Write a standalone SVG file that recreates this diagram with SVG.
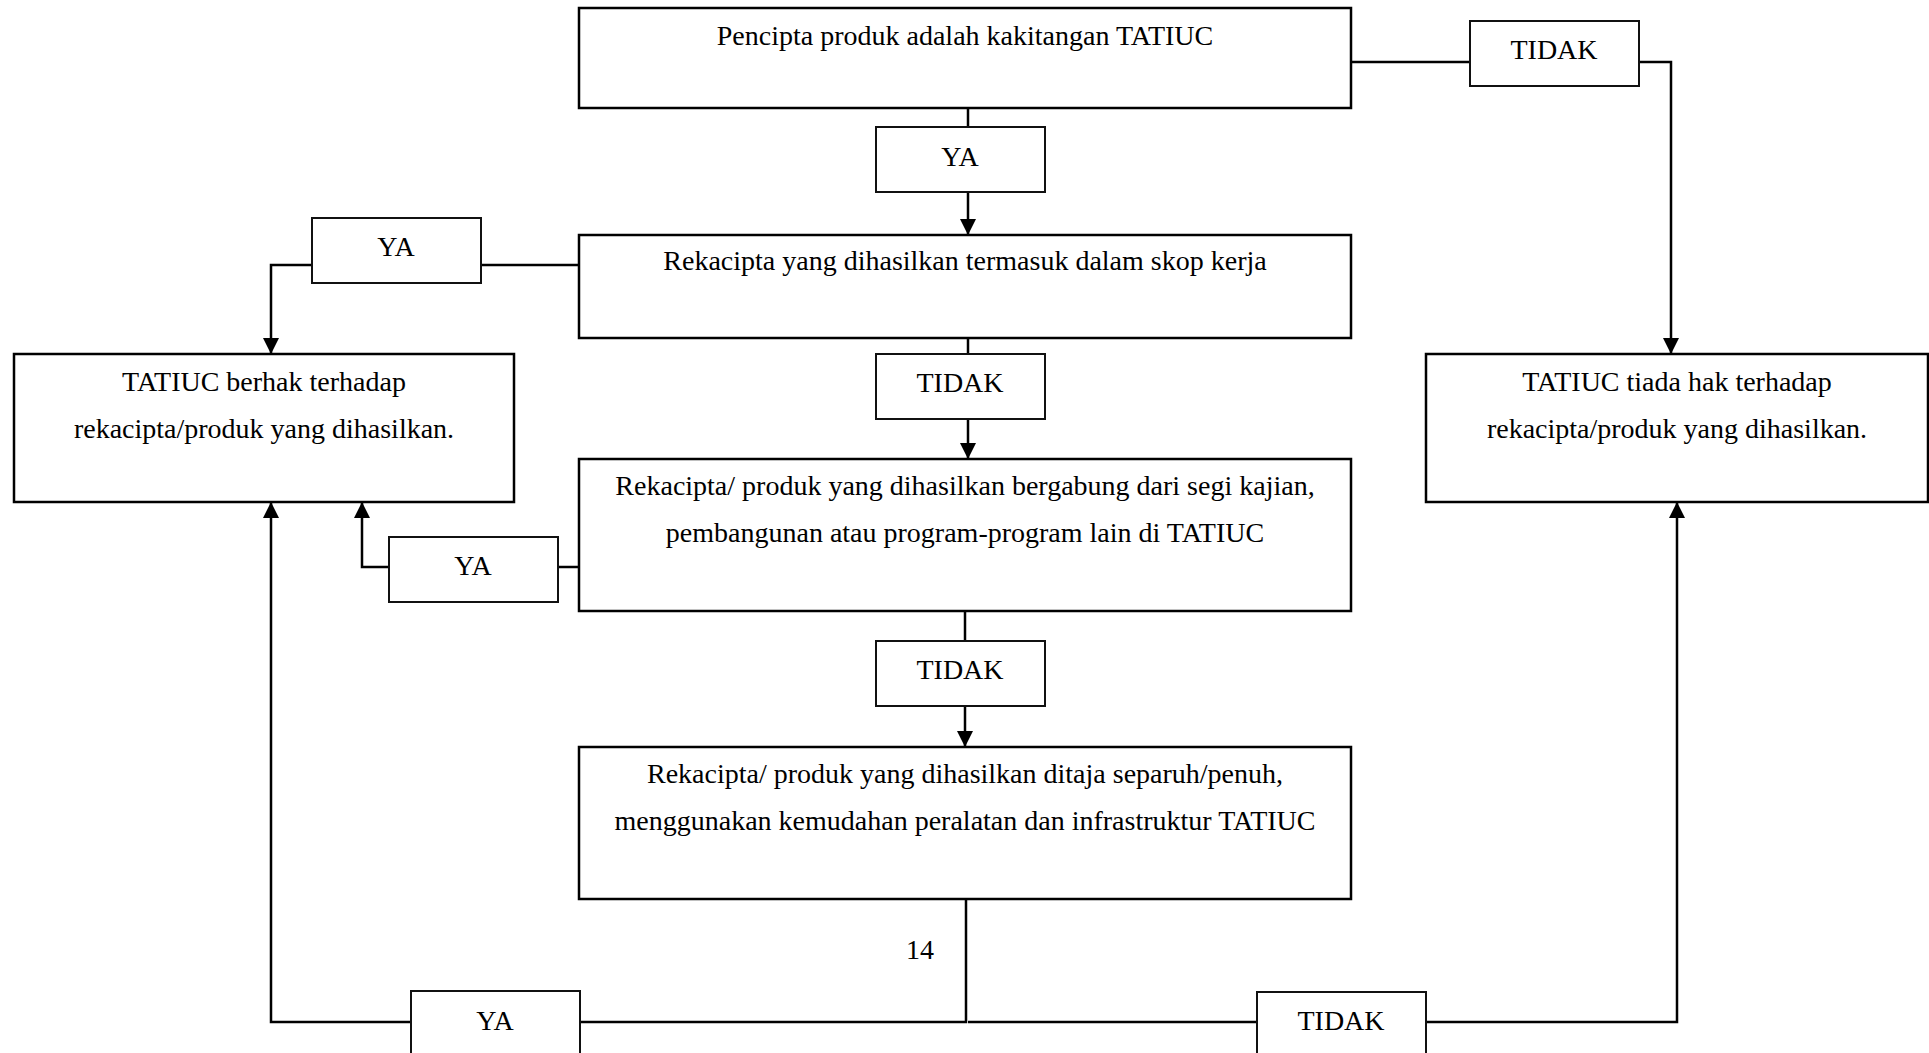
<svg xmlns="http://www.w3.org/2000/svg" width="1929" height="1053" viewBox="0 0 1929 1053">
<style>
.box{fill:#fff;stroke:#000;stroke-width:2.5}
.lbl{fill:#fff;stroke:#111;stroke-width:2}
.t{font-family:"Liberation Serif","Times New Roman",serif;font-size:28px;fill:#000;text-anchor:middle}
.c{fill:none;stroke:#000;stroke-width:2.5}
.a{marker-end:url(#arr)}
</style>
<defs>
<marker id="arr" viewBox="0 0 16 16" refX="16" refY="8" markerWidth="16" markerHeight="16" markerUnits="userSpaceOnUse" orient="auto">
<path d="M0,0 L16,8 L0,16 z" fill="#000"/>
</marker>
</defs>
<rect width="1929" height="1053" fill="#fff"/>
<g id="connectors">
<path class="c" d="M968,108 V127"/>
<path class="c a" d="M968,192 V235"/>
<path class="c" d="M580,265 H481"/>
<path class="c a" d="M312,265 H271 V354"/>
<path class="c" d="M968,338 V354"/>
<path class="c a" d="M968,419 V459"/>
<path class="c" d="M580,567 H558"/>
<path class="c a" d="M389,567 H362 V502"/>
<path class="c" d="M965,611 V641"/>
<path class="c a" d="M965,706 V747"/>
<path class="c" d="M966,899 V1022 H580"/>
<path class="c a" d="M411,1022 H271 V502"/>
<path class="c" d="M968,1022 H1257"/>
<path class="c a" d="M1426,1022 H1677 V502"/>
<path class="c" d="M1351,62 H1470"/>
<path class="c a" d="M1639,62 H1671 V354"/>
</g>
<g id="n1"><rect class="box" x="579" y="8" width="772" height="100"/><text class="t" x="965" y="45">Pencipta produk adalah kakitangan TATIUC</text></g>
<g id="l1"><rect class="lbl" x="876" y="127" width="169" height="65"/><text class="t" x="960" y="166">YA</text></g>
<g id="n2"><rect class="box" x="579" y="235" width="772" height="103"/><text class="t" x="965" y="270">Rekacipta yang dihasilkan termasuk dalam skop kerja</text></g>
<g id="l2"><rect class="lbl" x="312" y="218" width="169" height="65"/><text class="t" x="396" y="256">YA</text></g>
<g id="r1"><rect class="box" x="14" y="354" width="500" height="148"/><text class="t" x="264" y="391">TATIUC berhak terhadap</text><text class="t" x="264" y="438">rekacipta/produk yang dihasilkan.</text></g>
<g id="l3"><rect class="lbl" x="876" y="354" width="169" height="65"/><text class="t" x="960" y="392">TIDAK</text></g>
<g id="n3"><rect class="box" x="579" y="459" width="772" height="152"/><text class="t" x="965" y="495">Rekacipta/ produk yang dihasilkan bergabung dari segi kajian,</text><text class="t" x="965" y="542">pembangunan atau program-program lain di TATIUC</text></g>
<g id="l4"><rect class="lbl" x="389" y="537" width="169" height="65"/><text class="t" x="473" y="575">YA</text></g>
<g id="l5"><rect class="lbl" x="876" y="641" width="169" height="65"/><text class="t" x="960" y="679">TIDAK</text></g>
<g id="n4"><rect class="box" x="579" y="747" width="772" height="152"/><text class="t" x="965" y="783">Rekacipta/ produk yang dihasilkan ditaja separuh/penuh,</text><text class="t" x="965" y="830">menggunakan kemudahan peralatan dan infrastruktur TATIUC</text></g>
<g id="pg"><text class="t" x="920" y="959">14</text></g>
<g id="l6"><rect class="lbl" x="411" y="991" width="169" height="80"/><text class="t" x="495" y="1030">YA</text></g>
<g id="l7"><rect class="lbl" x="1257" y="992" width="169" height="80"/><text class="t" x="1341" y="1030">TIDAK</text></g>
<g id="l8"><rect class="lbl" x="1470" y="21" width="169" height="65"/><text class="t" x="1554" y="59">TIDAK</text></g>
<g id="r2"><rect class="box" x="1426" y="354" width="502" height="148"/><text class="t" x="1677" y="391">TATIUC tiada hak terhadap</text><text class="t" x="1677" y="438">rekacipta/produk yang dihasilkan.</text></g>
</svg>
